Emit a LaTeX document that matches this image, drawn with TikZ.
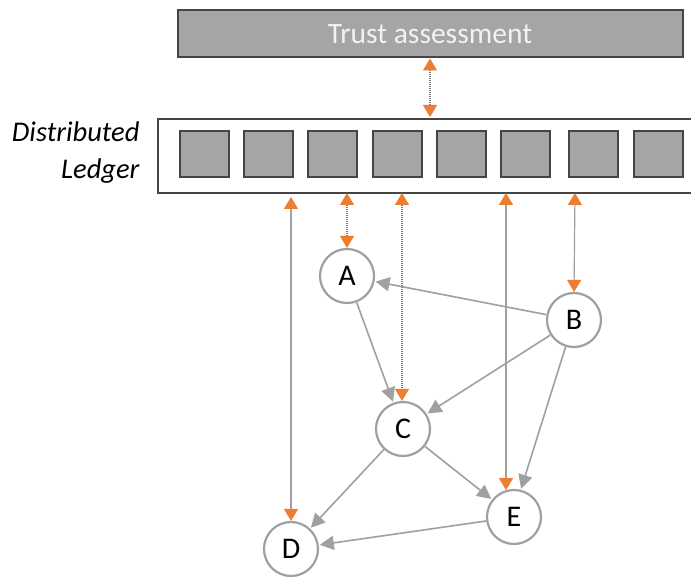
\documentclass[tikz,border=0pt]{standalone}
\usepackage{fontspec}
\setmainfont{Carlito}
\usetikzlibrary{arrows.meta}
\definecolor{oarrow}{HTML}{ED7D31}
\definecolor{edgegray}{HTML}{A0A0A0}
\definecolor{boxgray}{HTML}{A5A5A5}
\definecolor{darkline}{HTML}{454545}
\tikzset{
  peer/.style={circle, draw=edgegray, line width=2.2pt, fill=white, minimum size=54pt, inner sep=0pt, font=\fontsize{30}{30}\selectfont},
  block/.style={draw=darkline, line width=2pt, fill=boxgray, minimum width=49pt, minimum height=46pt, inner sep=0pt},
  trust/.style={orange tip-orange tip},
  orange tip/.tip={Triangle[length=12pt,width=14pt,color=oarrow]},
  gray tip/.tip={Triangle[length=14pt,width=14pt,color=edgegray]},
  link/.style={edgegray, line width=1.6pt, -gray tip, shorten >=1pt},
  solidlink/.style={edgegray, line width=1.2pt, trust},
  dotlink/.style={darkline!70, line width=1.2pt, dash pattern=on 1pt off 1pt, trust},
}
\begin{document}
\begin{tikzpicture}[x=1pt,y=-1pt]
\useasboundingbox (0,0) rectangle (691,577);
\fill[white] (0,0) rectangle (691,577);

% trust assessment bar
\node[draw=darkline, line width=2pt, fill=boxgray, minimum width=505pt, minimum height=47pt, inner sep=0pt,
      text=white!95!black, font=\fontsize{29.5}{30}\selectfont] (trust) at (430,34) {Trust assessment};

% distributed ledger frame and its blocks
\node[draw=darkline, line width=1.8pt, fill=white, minimum width=560pt, minimum height=74pt, inner sep=0pt, anchor=north west] (ledger) at (157,118) {};
\node[align=right, anchor=east, font=\itshape\fontsize{28.5}{37}\selectfont] (ledgerlabel) at (143,153) {Distributed\\Ledger};
\foreach \x [count=\i] in {204,268,332,397,461,525,593,658}
  \node[block] (b\i) at (\x,154) {};

% peers
\node[peer] (A) at (347,276) {A};
\node[peer] (B) at (574,320) {B};
\node[peer] (C) at (403,429) {C};
\node[peer] (D) at (291,549) {D};
\node[peer] (E) at (514,517) {E};

% ledger access points
\coordinate (tl) at (430,117);
\coordinate (lD) at (291,197);
\coordinate (lA) at (347,193);
\coordinate (lC) at (402,193);
\coordinate (lE) at (506,193);
\coordinate (lB) at (575,193);

% ledger <-> trust assessment and peers
\draw[dotlink] (tl) -- (trust.south -| tl);
\draw[solidlink] (lD) -- (D.north);
\draw[dotlink] (lA) -- (A.north);
\draw[dotlink] (lC) -- (lC |- C.north);
\draw[solidlink] (lE) -- (lE |- E.107);
\draw[solidlink] (lB) -- (B.north);

% peer graph
\draw[link] (B) -- (A);
\draw[link] (A) -- (C);
\draw[link] (B) -- (C);
\draw[link] (B) -- (E.76);
\draw[link] (C) -- (D);
\draw[link] (C) -- (E);
\draw[link] (E) -- (D);
\end{tikzpicture}
\end{document}
